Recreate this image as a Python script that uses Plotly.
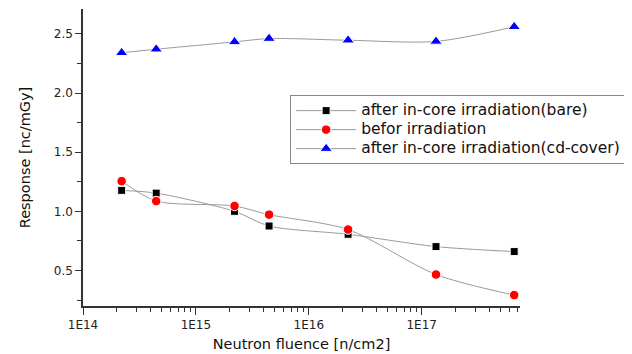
import plotly.graph_objects as go

fluence = [2.2e14, 4.45e14, 2.2e15, 4.45e15, 2.23e16, 1.34e17, 6.6e17]
bare = [1.177, 1.154, 1.000, 0.876, 0.806, 0.702, 0.660]
before = [1.255, 1.087, 1.045, 0.972, 0.846, 0.466, 0.292]
cd_cover = [2.340, 2.370, 2.432, 2.460, 2.446, 2.436, 2.560]

names = ["after in-core irradiation(bare)", "befor irradiation",
         "after in-core irradiation(cd-cover)"]
x_tickvals = [1e14, 1e15, 1e16, 1e17]
x_ticktext = ["1E14", "1E15", "1E16", "1E17"]
x_minor = [k * 10 ** e for e in range(14, 18) for k in range(2, 10)]

FONT = "DejaVu Sans"
line_style = dict(color="#9a9a9a", width=1, shape="spline", smoothing=0.8)


def legend_name(s):
    return '<span style="font-size:15.5px">' + s + '</span>'


fig = go.Figure()
fig.add_trace(go.Scatter(x=fluence, y=bare, name=legend_name(names[0]),
                         mode="lines+markers", line=line_style,
                         marker=dict(symbol="square", size=8, color="black",
                                     line=dict(color="white", width=1))))
fig.add_trace(go.Scatter(x=fluence, y=before, name=legend_name(names[1]),
                         mode="lines+markers", line=line_style,
                         marker=dict(symbol="circle", size=9.5, color="#ff0000",
                                     line=dict(color="white", width=1))))
fig.add_trace(go.Scatter(x=fluence, y=cd_cover, name=legend_name(names[2]),
                         mode="lines+markers", line=line_style,
                         marker=dict(symbol="triangle-up", size=11, color="#0000ff",
                                     line=dict(color="white", width=1))))

axis_common = dict(showline=True, linecolor="#333333", linewidth=1.5,
                   ticks="outside", tickcolor="#333333", tickwidth=1.2,
                   showgrid=False, zeroline=False, mirror=False, automargin=False,
                   tickfont=dict(family=FONT, size=12, color="#222222"))

fig.update_xaxes(type="log", range=[14, 17.871], tickvals=x_tickvals,
                 ticktext=x_ticktext, ticklen=7,
                 minor=dict(tickvals=x_minor, ticks="outside", ticklen=4,
                            tickcolor="#333333", showgrid=False),
                 title=dict(text="Neutron fluence [n/cm2]",
                            font=dict(family=FONT, size=14.5, color="#111111"),
                            standoff=8),
                 **axis_common)
fig.update_yaxes(range=[0.2, 2.71], tick0=0, dtick=0.5, tickformat=".1f",
                 ticklen=6,
                 minor=dict(dtick=0.25, ticks="outside", ticklen=4,
                            tickcolor="#333333", showgrid=False),
                 title=dict(text="Response [nc/mGy]",
                            font=dict(family=FONT, size=14.5, color="#111111"),
                            standoff=20),
                 **axis_common)

# page body has an 8px margin, so the figure is laid out 8px smaller
fig.update_layout(
    width=624, height=346,
    margin=dict(l=75, r=112, t=1, b=48),
    plot_bgcolor="white", paper_bgcolor="white",
    showlegend=True,
    legend=dict(x=0.474, y=0.71, xanchor="left", yanchor="top",
                bordercolor="#888888", borderwidth=1, bgcolor="white",
                font=dict(family=FONT, size=12, color="#111111"),
                tracegroupgap=0, itemwidth=60),
)

fig.write_html("out.html")
